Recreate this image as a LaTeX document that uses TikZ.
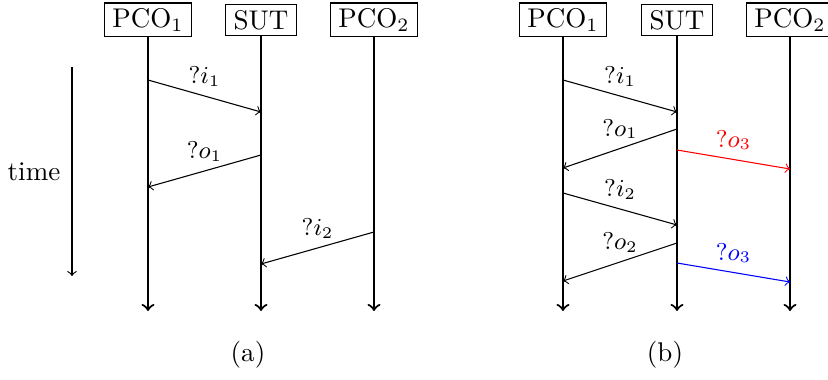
\documentclass[tikz,border=0pt]{standalone}
\usepackage{amsmath}
\usetikzlibrary{arrows}

\begin{document}
\begin{tikzpicture}[x=0.37pt,y=-0.37pt,>=to,auto,
                    pco node/.style={draw,inner xsep=3pt,inner ysep=2pt},
                    life/.style={->,thick},
                    msg/.style={->,every node/.style={font=\small,above}}]
\useasboundingbox (0,0) rectangle (828,380);
% (a)
\node[pco node] (1) at (148,20) {PCO$_1$};
\node[pco node] (2) at (261,20) {SUT};
\node[pco node] (3) at (374,20) {PCO$_2$};
% (b)
\node[pco node] (4) at (563,20) {PCO$_1$};
\node[pco node] (5) at (677,20) {SUT};
\node[pco node] (6) at (790,20) {PCO$_2$};

\foreach \n/\x in {1/148,2/261,3/374,4/563,5/677,6/790}
  \draw[life] (\n) -- (\x,311);

% time axis
\coordinate (t0) at (72,67);
\coordinate (t1) at (72,276);
\draw[->] (t0) -- (t1);
\node (time) at (34,172) {time};

% message ends (a)
\coordinate (a1) at (148,80);  \coordinate (a2) at (261,112);
\coordinate (a3) at (261,155); \coordinate (a4) at (148,187);
\coordinate (a5) at (374,232); \coordinate (a6) at (261,264);
% message ends (b)
\coordinate (b1) at (563,80);  \coordinate (b2) at (677,112);
\coordinate (b3) at (677,129); \coordinate (b4) at (563,168);
\coordinate (b5) at (677,150); \coordinate (b6) at (790,169);
\coordinate (b7) at (563,193); \coordinate (b8) at (677,225);
\coordinate (b9) at (677,243); \coordinate (b10) at (563,281);
\coordinate (b11) at (677,263); \coordinate (b12) at (790,282);

\path[msg]
(a1) edge node {$?i_1$} (a2)
(a3) edge node {$?o_1$} (a4)
(a5) edge node {$?i_2$} (a6)
(b1) edge node {$?i_1$} (b2)
(b3) edge node {$?o_1$} (b4)
(b5) edge[red] node {$?o_3$} (b6)
(b7) edge node {$?i_2$} (b8)
(b9) edge node {$?o_2$} (b10)
(b11) edge[blue] node {$?o_3$} (b12)
;

\node (capa) at (248,355) {(a)};
\node (capb) at (665,355) {(b)};
\end{tikzpicture}
\end{document}
